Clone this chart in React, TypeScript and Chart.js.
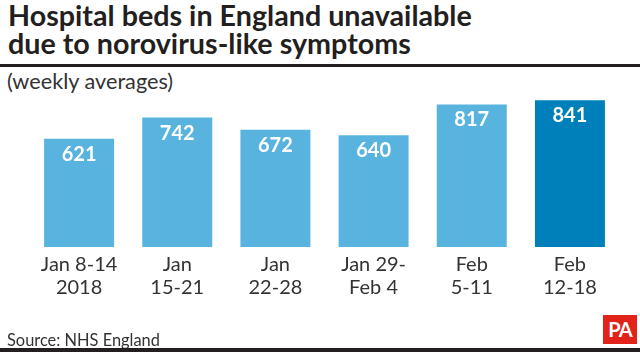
import React, { useEffect, useRef } from "react";
import { Chart, registerables } from "chart.js";

Chart.register(...registerables);

const titleLines = ["Hospital beds in England unavailable", "due to norovirus-like symptoms"];
const subtitle = "(weekly averages)";
const source = "Source: NHS England";
const categories: string[][] = [
  ["Jan 8-14", "2018"],
  ["Jan", "15-21"],
  ["Jan", "22-28"],
  ["Jan 29-", "Feb 4"],
  ["Feb", "5-11"],
  ["Feb", "12-18"],
];
const values = [621, 742, 672, 640, 817, 841];
const barColors = ["#58B4DE", "#58B4DE", "#58B4DE", "#58B4DE", "#58B4DE", "#0080BB"];

const FONT = "Lato, 'Noto Sans', sans-serif";

const valueLabels = {
  id: "valueLabels",
  afterDatasetsDraw(chart: any) {
    const ctx = chart.ctx;
    const meta = chart.getDatasetMeta(0);
    ctx.save();
    ctx.fillStyle = "#ffffff";
    ctx.font = `bold 20px ${FONT}`;
    ctx.textAlign = "center";
    ctx.textBaseline = "alphabetic";
    meta.data.forEach((bar: any, i: number) => {
      ctx.fillText(String(values[i]), bar.x, bar.y + 22);
    });
    ctx.restore();
  },
};

export default function App() {
  const ref = useRef<HTMLCanvasElement>(null);
  useEffect(() => {
    if (!ref.current) return;
    const chart = new Chart(ref.current, {
      type: "bar",
      data: {
        labels: categories,
        datasets: [
          {
            data: values,
            backgroundColor: barColors,
            borderWidth: 0,
            categoryPercentage: 1,
            barPercentage: 0.713,
          },
        ],
      },
      options: {
        responsive: false,
        animation: false,
        devicePixelRatio: 1,
        layout: { padding: { left: 30, right: 21, top: 90, bottom: 50 } },
        plugins: { legend: { display: false }, tooltip: { enabled: false } },
        scales: {
          y: { display: false, min: 0, max: 900 },
          x: {
            grid: { display: false, drawTicks: false },
            border: { display: false },
            ticks: {
              color: "#333333",
              font: { family: FONT, size: 20, lineHeight: "23px" },
              padding: 6,
              maxRotation: 0,
              autoSkip: false,
            },
          },
        },
      },
      plugins: [valueLabels],
    });
    return () => chart.destroy();
  }, []);

  return (
    <div
      style={{
        position: "fixed",
        left: 0,
        top: 0,
        width: 640,
        height: 355,
        background: "#ffffff",
        overflow: "hidden",
        fontFamily: FONT,
      }}
    >
      <div
        style={{
          position: "absolute",
          left: 8,
          top: 1,
          fontSize: 28.7,
          lineHeight: "28px",
          fontWeight: 700,
          color: "#231F20",
          whiteSpace: "nowrap",
        }}
      >
        {titleLines.map((t) => (
          <div key={t}>{t}</div>
        ))}
      </div>
      <div style={{ position: "absolute", left: 0, top: 64, width: 640, height: 3, background: "#231F20" }} />
      <div
        style={{
          position: "absolute",
          left: 7,
          top: 68.5,
          fontSize: 21.7,
          lineHeight: "24px",
          color: "#333333",
          whiteSpace: "nowrap",
        }}
      >
        {subtitle}
      </div>
      <canvas ref={ref} width={640} height={355} style={{ position: "absolute", left: 0, top: 0 }} />
      <div
        style={{
          position: "absolute",
          left: 7,
          top: 329.7,
          fontSize: 16.4,
          lineHeight: "20px",
          color: "#333333",
          whiteSpace: "nowrap",
        }}
      >
        {source}
      </div>
      <div
        style={{
          position: "absolute",
          left: 603,
          top: 315,
          width: 34,
          height: 29,
          background: "#E2231A",
          color: "#ffffff",
          fontWeight: 700,
          fontSize: 20,
          lineHeight: "29px",
          textAlign: "center",
          letterSpacing: "-1px",
        }}
      >
        PA
      </div>
      <div style={{ position: "absolute", left: 0, top: 348, width: 640, height: 4, background: "#231F20" }} />
    </div>
  );
}
